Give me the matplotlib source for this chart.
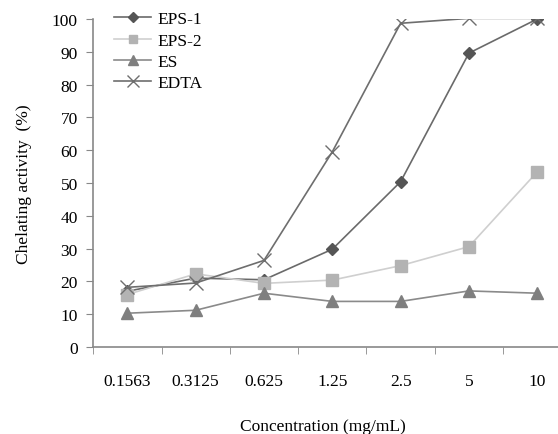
import matplotlib
matplotlib.use("Agg")
import matplotlib.pyplot as plt
import numpy as np

concentrations = ["0.1563", "0.3125", "0.625", "1.25", "2.5", "5", "10"]
eps1 = [17.0, 21.0, 20.5, 29.8, 50.4, 89.6, 100.0]
eps2 = [16.0, 22.3, 19.4, 20.4, 24.8, 30.6, 53.4]
es = [10.3, 11.2, 16.4, 13.9, 13.9, 17.1, 16.4]
edta = [18.2, 19.5, 26.4, 59.5, 98.7, 100.2, 100.2]

plt.rcParams['font.family'] = ['Liberation Serif', 'DejaVu Serif']

fig = plt.figure(figsize=(5.58, 4.35), dpi=100)
ax = fig.add_axes([0.167, 0.2, 0.857, 0.754])

x = np.arange(len(concentrations))
ax.plot(x, eps1, color='#6a6a6a', lw=1.2, marker='D', ms=6, mfc='#555555', mec='#555555', label='EPS-1')
ax.plot(x, eps2, color='#cfcfcf', lw=1.2, marker='s', ms=8, mfc='#b3b3b3', mec='#b3b3b3', label='EPS-2')
ax.plot(x, es, color='#8a8a8a', lw=1.2, marker='^', ms=9, mfc='#7f7f7f', mec='#7f7f7f', label='ES')
ax.plot(x, edta, color='#6e6e6e', lw=1.2, marker='x', ms=10, mew=1.0, mec='#6e6e6e', label='EDTA')

ax.set_xlim(-0.5, len(concentrations) - 0.5)
ax.set_ylim(0, 100)
ax.set_yticks(np.arange(0, 101, 10))
ax.set_xticks(x)
ax.set_xticklabels(concentrations)
ax.set_xticks(np.arange(-0.5, len(concentrations), 1), minor=True)
ax.tick_params(axis='x', which='major', length=0, pad=19, labelsize=12.5)
ax.tick_params(axis='x', which='minor', length=5, color='#888888')
ax.tick_params(axis='y', length=5, color='#888888', labelsize=12.5, pad=6)

for s in ['top', 'right']:
    ax.spines[s].set_visible(False)
for s in ['left', 'bottom']:
    ax.spines[s].set_color('#888888')
    ax.spines[s].set_linewidth(1.2)

ax.set_ylabel('Chelating activity  (%)', fontsize=12.5, labelpad=14)
ax.set_xlabel('Concentration (mg/mL)', fontsize=12.5)
ax.xaxis.set_label_coords(0.48, -0.215)

ax.legend(loc='upper left', bbox_to_anchor=(0.03, 1.045), frameon=False, fontsize=12.5,
          handlelength=2.1, labelspacing=0.3, handletextpad=0.4, borderaxespad=0,
          markerscale=0.8)

fig.savefig('out.png', dpi=100)
